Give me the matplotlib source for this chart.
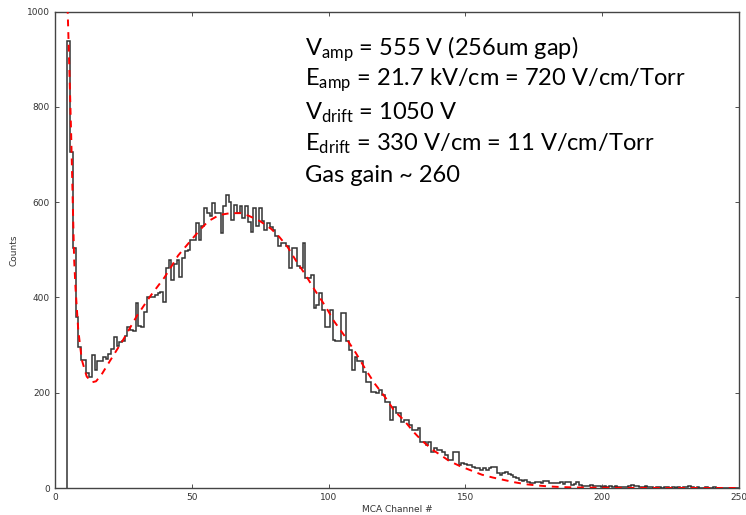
import numpy as np
import matplotlib
matplotlib.use("Agg")
import matplotlib.pyplot as plt

# ── MCA spectrum, one count per channel (channels 5..250) ──
channels = np.arange(5, 251)
counts = [
    938, 706, 503, 360, 295, 268, 268, 242, 232, 280,
    248, 266, 266, 275, 270, 282, 292, 318, 298, 306,
    308, 320, 338, 332, 330, 388, 340, 338, 370, 400,
    402, 400, 406, 410, 412, 390, 462, 478, 437, 470,
    479, 444, 483, 498, 500, 521, 521, 556, 521, 549,
    587, 578, 570, 598, 577, 577, 535, 591, 615, 600,
    563, 594, 577, 591, 566, 591, 559, 538, 587, 549,
    587, 560, 542, 556, 548, 542, 528, 507, 514, 514,
    507, 461, 503, 503, 465, 461, 514, 440, 440, 447,
    377, 384, 409, 374, 339, 339, 374, 311, 308, 308,
    367, 367, 308, 290, 248, 276, 266, 266, 244, 223,
    223, 202, 202, 199, 206, 195, 181, 181, 143, 171,
    157, 157, 139, 143, 143, 132, 122, 122, 125, 97,
    97, 91, 97, 76, 83, 80, 80, 76, 69, 59,
    59, 76, 76, 48, 52, 50, 48, 48, 45, 41,
    41, 38, 41, 38, 41, 45, 45, 31, 27, 31,
    34, 30, 27, 24, 20, 17, 15, 17, 13, 10,
    10, 12, 13, 11, 15, 15, 10, 10, 11, 11,
    12, 8, 13, 13, 7, 8, 12, 6, 5, 5,
    5, 6, 4, 4, 5, 3, 4, 3, 4, 2,
    5, 3, 2, 3, 2, 4, 6, 5, 4, 3,
    2, 4, 3, 2, 1, 3, 2, 1, 2, 3,
    1, 2, 1, 2, 1, 2, 3, 4, 2, 1,
    2, 1, 1, 2, 1, 1, 2, 1, 1, 0,
    1, 1, 0, 1, 0, 1,
]

# ── Fit curve ──
fit_x = [4.6, 5.0, 5.5, 5.9, 6.5, 7.0, 7.5, 8.5, 9.8, 11.6, 13.5, 15, 17, 20,
         25, 27.5, 30, 35, 40, 42, 45, 50, 53, 56, 60, 64, 68, 71, 75, 79,
         82, 85, 88, 91.6, 95, 99, 102, 106, 110, 113.6, 117, 121, 124,
         127.6, 131, 134, 138, 141, 144, 148, 152, 156, 160, 164, 168, 172,
         176, 180, 185, 190, 200, 210, 250]
fit_y = [1010, 930, 830, 745, 600, 480, 420, 332, 269, 234, 222, 224, 238,
         266, 312, 337, 362, 404, 442, 460, 488, 522, 542, 560, 573, 577,
         577, 571, 560, 544, 527, 506, 478, 447, 415, 380, 350, 318, 283,
         248, 218, 188, 162, 142, 118, 100, 80, 69, 57, 46, 37, 28, 22, 17,
         12, 8, 5.5, 3.5, 2, 1.2, 0.5, 0.2, 0]

notes = [
    r"$\mathregular{V_{amp}}$ = 555 V (256um gap)",
    r"$\mathregular{E_{amp}}$ = 21.7 kV/cm = 720 V/cm/Torr",
    r"$\mathregular{V_{drift}}$ = 1050 V",
    r"$\mathregular{E_{drift}}$ = 330 V/cm = 11 V/cm/Torr",
    "Gas gain ~ 260",
]

plt.rcParams["mathtext.fontset"] = "custom"
plt.rcParams["mathtext.rm"] = "Lato"

fig = plt.figure(figsize=(7.46, 5.15), dpi=100, facecolor="white")
ax = fig.add_axes([0.0737, 0.0524, 0.917, 0.925])

edges = np.append(channels - 0.5, channels[-1] + 0.5)
ax.stairs(counts, edges, baseline=0, fill=False, color="#333333", linewidth=1.1)
ax.plot(fit_x, fit_y, color="red", linestyle=(0, (3.5, 3)), linewidth=1.4, zorder=5)

ax.set_xlim(0, 250)
ax.set_ylim(0, 1000)
ax.set_xticks(range(0, 251, 50))
ax.set_yticks(range(0, 1001, 200))
ax.tick_params(direction="in", top=True, right=True, labelsize=6.5,
               colors="#333333", length=3, width=0.6)
for s in ax.spines.values():
    s.set_color("#444444")
    s.set_linewidth(1.0)
ax.set_xlabel("MCA Channel #", fontsize=6.5, color="#333333", labelpad=2)
ax.set_ylabel("Counts", fontsize=6.5, color="#333333", labelpad=6)

y0 = 0.905
for i, line in enumerate(notes):
    fig.text(0.409, y0 - i * 0.0615, line, fontsize=17, family="Lato",
             color="black", va="center", ha="left")

fig.savefig("out.png", dpi=100, facecolor="white")
